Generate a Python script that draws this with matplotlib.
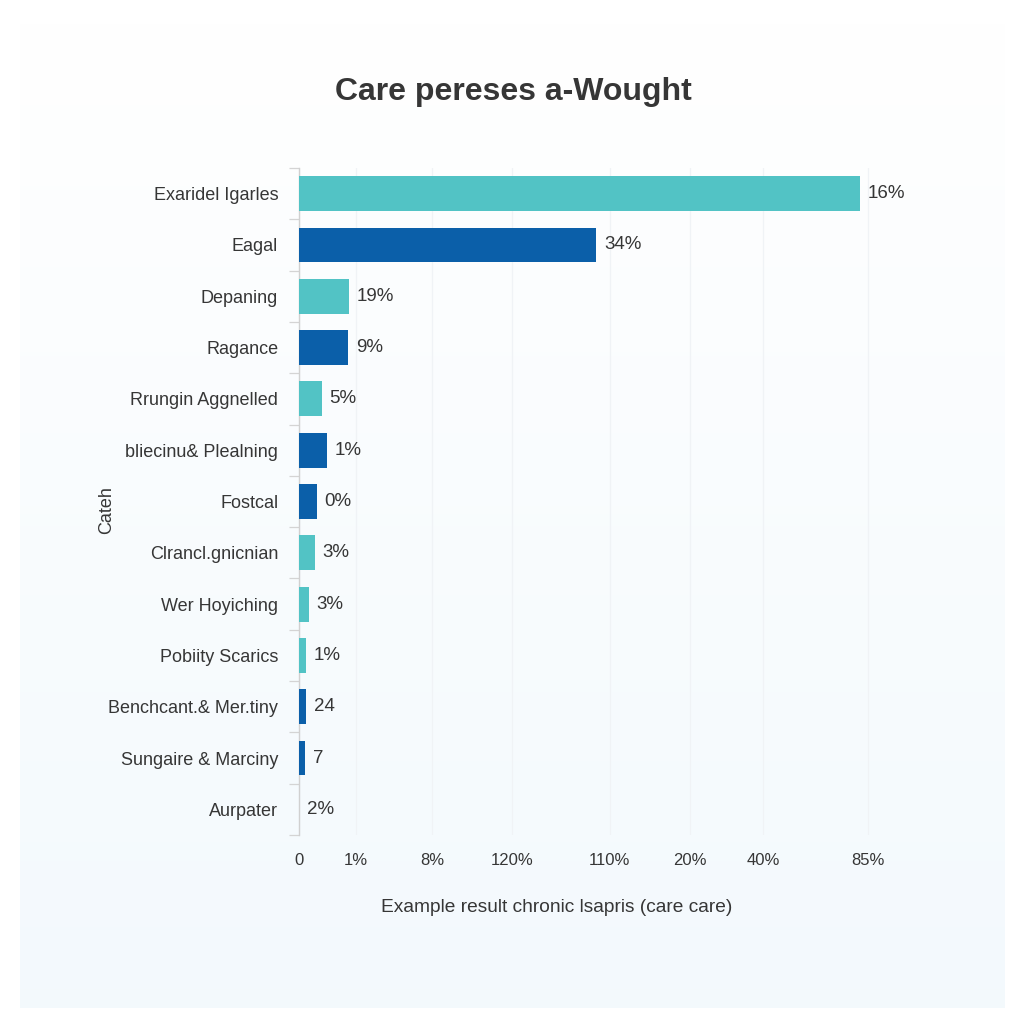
import numpy as np
import matplotlib
matplotlib.use("Agg")
import matplotlib.pyplot as plt
from matplotlib.ticker import FixedLocator

plt.rcParams["font.family"] = ["Liberation Sans", "DejaVu Sans"]

# ---- data ----
categories = [
    "Exaridel Igarles", "Eagal", "Depaning", "Ragance", "Rrungin Aggnelled",
    "bliecinu& Plealning", "Fostcal", "Clrancl.gnicnian", "Wer Hoyiching",
    "Pobiity Scarics", "Benchcant.& Mer.tiny", "Sungaire & Marciny", "Aurpater",
]
values = [94.9, 50.3, 8.5, 8.3, 3.9, 4.7, 3.0, 2.7, 1.7, 1.2, 1.2, 1.0, 0.0]
value_labels = ["16%", "34%", "19%", "9%", "5%", "1%", "0%", "3%", "3%", "1%", "24", "7", "2%"]
bar_kind = ["teal", "blue", "teal", "blue", "teal", "blue", "blue", "teal", "teal",
            "teal", "blue", "blue", "teal"]
xtick_pos = [0, 9.6, 22.5, 36.0, 52.6, 66.2, 78.5, 96.3]
xtick_labels = ["0", "1%", "8%", "120%", "110%", "20%", "40%", "85%"]

palette = {"teal": "#52c3c5", "blue": "#0b5fa9"}
text_c = "#363636"

fig = plt.figure(figsize=(10.24, 10.24), dpi=100)
fig.patch.set_facecolor("white")

# soft gradient panel behind everything
bg = fig.add_axes([20 / 1024, 16 / 1024, 985 / 1024, 1 - 16 / 1024 - 20 / 1024], zorder=-5)
grad = np.linspace(0, 1, 256)[:, None]
top_rgb = np.array([1.0, 1.0, 1.0])
bot_rgb = np.array([0.953, 0.977, 0.992])
img = top_rgb * (1 - grad[..., None]) + bot_rgb * grad[..., None]
img = np.repeat(img, 2, axis=1)
bg.imshow(img, aspect="auto", extent=(0, 1, 0, 1))
bg.set_axis_off()

ax = fig.add_axes([299 / 1024, 1 - 835 / 1024, 591 / 1024, (835 - 168) / 1024])
ax.set_facecolor("none")

y = np.arange(len(categories))
colors = [palette[k] for k in bar_kind]
bars = ax.barh(y, values, height=0.68, color=colors, zorder=3)

for b, lab in zip(bars, value_labels):
    ax.annotate(lab, (b.get_width(), b.get_y() + b.get_height() / 2),
                xytext=(5.5, 0), textcoords="offset points",
                ha="left", va="center", fontsize=13.5, color=text_c)

ax.set_xlim(0, 100)
ax.set_ylim(len(categories) - 0.5, -0.5)

ax.set_yticks(y)
ax.set_yticklabels(categories, fontsize=13, color=text_c)
ax.tick_params(axis="y", which="major", length=0, pad=15)
ax.yaxis.set_minor_locator(FixedLocator(np.arange(-0.5, len(categories), 1.0)))
ax.tick_params(axis="y", which="minor", length=7, color="#d4d4d4", width=0.9)

ax.set_xticks(xtick_pos)
ax.set_xticklabels(xtick_labels, fontsize=12, color=text_c)
ax.tick_params(axis="x", length=0, pad=13)
ax.grid(True, axis="x", color="#f0f3f6", linewidth=0.9, zorder=0)

for side in ("top", "right", "bottom"):
    ax.spines[side].set_visible(False)
ax.spines["left"].set_color("#d0d0d0")
ax.spines["left"].set_linewidth(1.0)

fig.text(513 / 1024, 1 - 92 / 1024, "Care pereses a-Wought", ha="center", va="center",
         fontsize=23, fontweight="bold", color=text_c)
fig.text(557 / 1024, 1 - 907 / 1024, "Example result chronic lsapris (care care)",
         ha="center", va="center", fontsize=13.8, color=text_c)
fig.text(107 / 1024, 1 - 510 / 1024, "Cateh", ha="center", va="center",
         rotation=90, fontsize=13, color=text_c)

fig.savefig("out.png", dpi=100, facecolor=fig.get_facecolor())
